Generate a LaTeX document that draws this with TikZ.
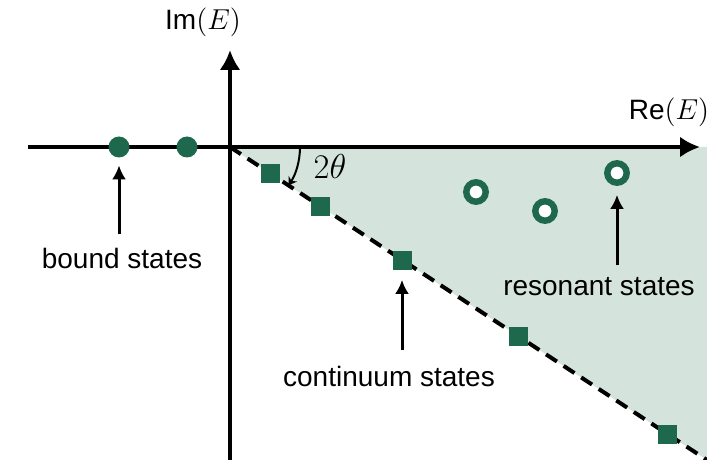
\documentclass[tikz,border=0pt]{standalone}
\usepackage{fontspec}
\setmainfont{Liberation Sans}
\usetikzlibrary{arrows.meta}
\definecolor{stategreen}{RGB}{30,104,78}
\definecolor{regionfill}{RGB}{212,227,220}
\tikzset{
  axis/.style={line width=2pt,-{Latex[length=10pt,width=10.5pt]}},
  boundpt/.style={circle,fill=stategreen,minimum size=10.5pt,inner sep=0pt},
  contpt/.style={rectangle,fill=stategreen,minimum size=9.5pt,inner sep=0pt},
  resonpt/.style={circle,draw=stategreen,line width=3.2pt,fill=white,minimum size=9.7pt,inner sep=0pt},
  pointer/.style={line width=1.5pt,-{Latex[length=7pt,width=7pt]}},
  lbl/.style={font=\fontsize{14}{16}\selectfont,inner sep=0pt}
}
\begin{document}
\begin{tikzpicture}[x=0.5pt,y=-0.5pt]
                \useasboundingbox (0,0) rectangle (707,460);
                \coordinate (O) at (230,147);
                \coordinate (cutend) at (707,460);
                % rotated continuum region
                \fill[regionfill] (O) -- (707,147) -- (cutend) -- cycle;
                \draw[line width=2pt,dash pattern=on 6.5pt off 4pt] (O) -- (cutend);
                % axes
                \draw[axis] (28,147) -- (700,147);
                \draw[axis] (230,460) -- (230,50);
                \node[lbl] (imlbl) at (203,22) {Im$(E)$};
                \node[lbl] (relbl) at (669,112) {Re$(E)$};
                % angle
                \draw[line width=1pt,-{Stealth[length=4pt,width=5pt]}] (300,147) arc[start angle=0,end angle=33.3,radius=70];
                \node[lbl,font=\fontsize{16}{18}\selectfont] (anglelbl) at (330,166) {$2\theta$};
                % states
                \node[boundpt] (b1) at (119,147) {};
                \node[boundpt] (b2) at (187,147) {};
                \foreach \x/\y [count=\i] in {270/173.3,320/206,402/260,518/336.2,667/434}
                  \node[contpt] (c\i) at (\x,\y) {};
                \node[resonpt] (r1) at (476,192) {};
                \node[resonpt] (r2) at (545,211) {};
                \node[resonpt] (r3) at (617,173) {};
                % labels
                \node[lbl] (boundlbl) at (122,258) {bound states};
                \node[lbl] (contlbl) at (389,376) {continuum states};
                \node[lbl] (resonlbl) at (599,287) {resonant states};
                \draw[pointer] ([yshift=6.5pt]boundlbl.north -| b1) -- ([yshift=-3.75pt]b1.south);
                \draw[pointer] ([yshift=7.5pt]contlbl.north -| c3) -- ([yshift=-5pt]c3.south);
                \draw[pointer] ([yshift=6pt]resonlbl.north -| r3) -- ([yshift=-4.5pt]r3.south);
            \end{tikzpicture}
\end{document}
